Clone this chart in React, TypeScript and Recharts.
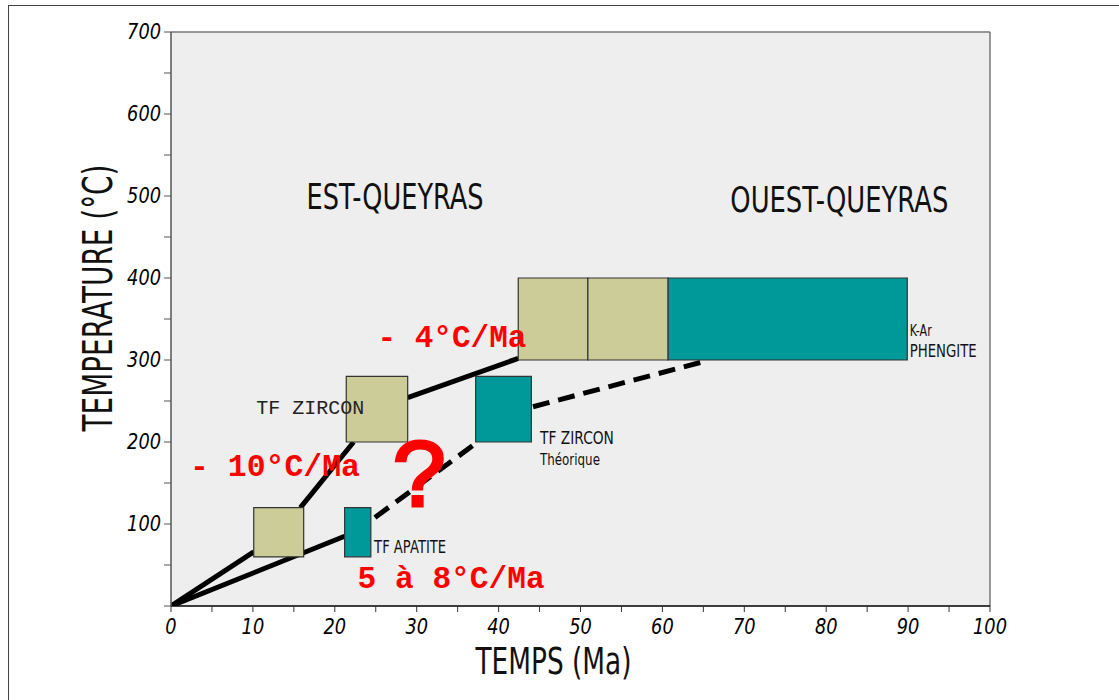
import React from 'react';
import {
  LineChart,
  Line,
  XAxis,
  YAxis,
  CartesianGrid,
  ReferenceArea,
  ReferenceLine,
  ReferenceDot,
  Label,
} from 'recharts';

// axis ticks (minor ticks every 5 Ma / 50 °C, labels on the round ones)
const xTicks = [0, 5, 10, 15, 20, 25, 30, 35, 40, 45, 50, 55, 60, 65, 70, 75, 80, 85, 90, 95, 100];
const yTicks = [0, 50, 100, 150, 200, 250, 300, 350, 400, 450, 500, 550, 600, 650, 700];

// age range (Ma) x temperature range (°C) of each dating method
const khakiBoxes = [
  { x1: 10.1, x2: 16.2, t1: 60, t2: 120 },
  { x1: 21.4, x2: 28.9, t1: 200, t2: 280 },
  { x1: 42.4, x2: 50.9, t1: 300, t2: 400 },
  { x1: 50.9, x2: 60.7, t1: 300, t2: 400 },
];
const tealBoxes = [
  { x1: 21.2, x2: 24.4, t1: 60, t2: 120 },
  { x1: 37.2, x2: 44.0, t1: 200, t2: 280 },
  { x1: 60.7, x2: 89.9, t1: 300, t2: 400 },
];

// cooling paths, visible parts between the boxes
const estPath1 = [{ x: 0, t: 0 }, { x: 10.1, t: 66 }];
const estPath2 = [{ x: 15.8, t: 120 }, { x: 22.3, t: 200 }];
const estPath3 = [{ x: 28.9, t: 254 }, { x: 42.4, t: 302 }];
const ouestPath = [{ x: 0, t: 0 }, { x: 21.2, t: 85 }];
const guessPath1 = [{ x: 24.9, t: 108 }, { x: 36.9, t: 196 }];
const guessPath2 = [{ x: 44.2, t: 243 }, { x: 65.4, t: 299 }];

const regionNames = ['EST-QUEYRAS', 'OUEST-QUEYRAS'];
const rateLabels = ['- 4°C/Ma', '- 10°C/Ma', '5 à 8°C/Ma'];
const methodLabels = ['TF ZIRCON', 'TF APATITE', 'TF ZIRCON', 'Théorique', 'K-Ar', 'PHENGITE'];

const HAND = '"DejaVu Sans", "Liberation Sans", sans-serif';
const MONO = '"Liberation Mono", "DejaVu Sans Mono", monospace';

const Txt = (props: any) => {
  const { viewBox, txt, w, size, font = HAND, color = '#111', weight = 'normal', anchor = 'middle', outline = 0 } = props;
  const x = viewBox.x + (viewBox.width || 0) / 2;
  const y = viewBox.y + (viewBox.height || 0) / 2;
  return (
    <text
      x={x}
      y={y}
      textAnchor={anchor}
      dominantBaseline="central"
      fontFamily={font}
      fontSize={size}
      fontWeight={weight}
      fill={color}
      stroke={outline ? color : undefined}
      strokeWidth={outline || undefined}
      textLength={w}
      lengthAdjust={w ? 'spacingAndGlyphs' : undefined}
    >
      {txt}
    </text>
  );
};

const XTick = (props: any) => {
  const { x, y, payload } = props;
  if (payload.value % 10 !== 0) return <g />;
  const s = String(payload.value);
  return (
    <text x={x} y={y} dy={13} textAnchor="middle" dominantBaseline="central" fontFamily={HAND}
      fontStyle="italic" fontSize={21} fill="#000" textLength={s.length * 11.3} lengthAdjust="spacingAndGlyphs">
      {s}
    </text>
  );
};

const YTick = (props: any) => {
  const { x, y, payload } = props;
  if (payload.value % 100 !== 0 || payload.value === 0) return <g />;
  const s = String(payload.value);
  return (
    <text x={x} y={y} textAnchor="end" dominantBaseline="central" fontFamily={HAND}
      fontStyle="italic" fontSize={21} fill="#000" textLength={s.length * 11.3} lengthAdjust="spacingAndGlyphs">
      {s}
    </text>
  );
};

const YTitle = (props: any) => {
  const vb = props.viewBox;
  const cx = vb.x - 13;
  const cy = vb.y + vb.height / 2 - 21;
  return (
    <text x={cx} y={cy} transform={`rotate(-90, ${cx}, ${cy})`} textAnchor="middle" dominantBaseline="central"
      fontFamily={HAND} fontSize={40} fill="#111" textLength={267} lengthAdjust="spacingAndGlyphs">
      TEMPERATURE (°C)
    </text>
  );
};

const XTitle = (props: any) => {
  const vb = props.viewBox;
  return (
    <text x={vb.x + vb.width / 2 - 27} y={vb.y + 55} textAnchor="middle" dominantBaseline="central"
      fontFamily={HAND} fontSize={38} fill="#111" textLength={156} lengthAdjust="spacingAndGlyphs">
      TEMPS (Ma)
    </text>
  );
};

const seg = (data: any[], key: string, dashed = false) => (
  <Line
    key={key}
    data={data}
    dataKey="t"
    stroke="#000"
    strokeWidth={5}
    strokeDasharray={dashed ? '17 9' : undefined}
    dot={false}
    activeDot={false}
    isAnimationActive={false}
  />
);

const note = (x: number, t: number, key: string, label: any) => (
  <ReferenceDot key={key} x={x} y={t} r={0} fill="none" stroke="none" ifOverflow="visible" label={label} />
);

export default function App() {
  return (
    <div
      style={{
        position: 'absolute',
        left: 8,
        top: 5,
        width: 1111,
        height: 695,
        boxSizing: 'border-box',
        borderTop: '1px solid #444',
        borderLeft: '1px solid #444',
        background: '#fff',
      }}
    >
      <LineChart width={1110} height={694} margin={{ top: 26, right: 129, bottom: 64, left: 102 }}>
        <CartesianGrid horizontal={false} vertical={false} fill="#eeeeee" />
        <XAxis
          type="number"
          dataKey="x"
          domain={[0, 100]}
          ticks={xTicks}
          interval={0}
          allowDataOverflow
          height={30}
          tick={<XTick />}
          tickSize={6}
          tickMargin={2}
          axisLine={{ stroke: '#000', strokeWidth: 1.5 }}
          tickLine={{ stroke: '#333' }}
        >
          <Label content={<XTitle />} />
        </XAxis>
        <YAxis
          type="number"
          domain={[0, 700]}
          ticks={yTicks}
          interval={0}
          allowDataOverflow
          width={60}
          tick={<YTick />}
          tickSize={7}
          tickMargin={3}
          axisLine={{ stroke: '#555', strokeWidth: 1.5 }}
          tickLine={{ stroke: '#555' }}
        >
          <Label content={<YTitle />} />
        </YAxis>
        <ReferenceLine y={700} stroke="#777" strokeWidth={1.5} />
        <ReferenceLine x={100} stroke="#777" strokeWidth={1.5} />

        {seg(estPath1, 'e1')}
        {seg(estPath2, 'e2')}
        {seg(estPath3, 'e3')}
        {seg(ouestPath, 'o1')}
        {seg(guessPath1, 'g1', true)}
        {seg(guessPath2, 'g2', true)}

        {khakiBoxes.map((b, i) => (
          <ReferenceArea key={`k${i}`} x1={b.x1} x2={b.x2} y1={b.t1} y2={b.t2} fill="#cccc99" fillOpacity={1}
            stroke="#333" strokeWidth={1.2} ifOverflow="visible" zIndex={450} />
        ))}
        {tealBoxes.map((b, i) => (
          <ReferenceArea key={`t${i}`} x1={b.x1} x2={b.x2} y1={b.t1} y2={b.t2} fill="#009999" fillOpacity={1}
            stroke="#333" strokeWidth={1.2} ifOverflow="visible" zIndex={450} />
        ))}

        {note(27.35, 499, 'r0', <Txt txt={regionNames[0]} w={177} size={36} />)}
        {note(81.6, 496, 'r1', <Txt txt={regionNames[1]} w={218} size={36} />)}

        {note(34.3, 326, 'a0', <Txt txt={rateLabels[0]} w={149} size={31} font={MONO} weight="bold" color="#ff0000" />)}
        {note(12.7, 169, 'a1', <Txt txt={rateLabels[1]} w={170} size={31} font={MONO} weight="bold" color="#ff0000" />)}
        {note(34.2, 32, 'a2', <Txt txt={rateLabels[2]} w={187} size={31} font={MONO} weight="bold" color="#ff0000" />)}
        {note(30.5, 153, 'q', <Txt txt="?" size={96} font={MONO} color="#ff0000" outline={3} />)}

        {note(17, 241, 'm0', <Txt txt={methodLabels[0]} w={108} size={20} font={MONO} color="#222" />)}
        {note(24.8, 73, 'm1', <Txt txt={methodLabels[1]} w={72} size={18} anchor="start" />)}
        {note(45.05, 205, 'm2', <Txt txt={methodLabels[2]} w={74} size={17} anchor="start" />)}
        {note(45.05, 179, 'm3', <Txt txt={methodLabels[3]} w={60} size={16} anchor="start" />)}
        {note(90.2, 335, 'm4', <Txt txt={methodLabels[4]} w={22} size={15} anchor="start" />)}
        {note(90.2, 311, 'm5', <Txt txt={methodLabels[5]} w={67} size={17} anchor="start" />)}
      </LineChart>
    </div>
  );
}
